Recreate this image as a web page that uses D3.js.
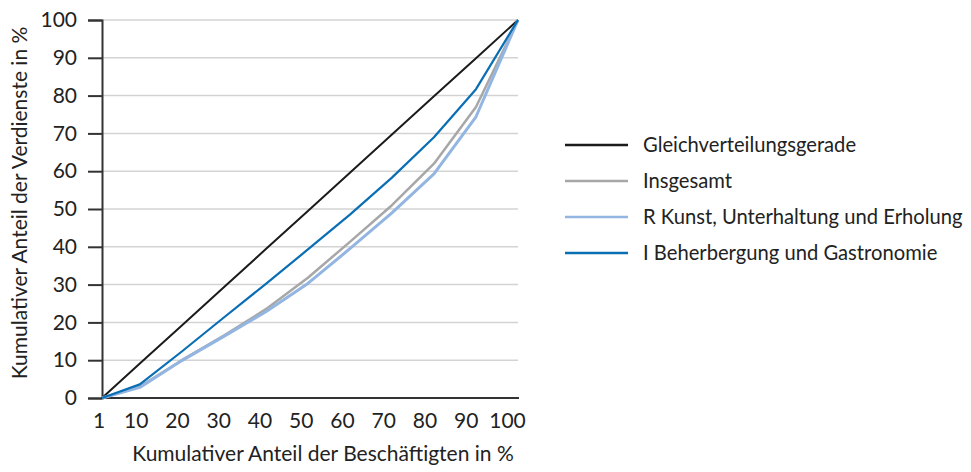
<!DOCTYPE html>
<html>
<head>
<meta charset="utf-8">
<script src="https://cdn.jsdelivr.net/npm/d3@7"></script>
<style>
  body { margin: 0; background: #fff; }
  text { font-family: Lato, "Open Sans", sans-serif; fill: #222; }
</style>
</head>
<body>
<script>
// chart data
var categories = [1, 10, 20, 30, 40, 50, 60, 70, 80, 90, 100];
var gleich = [0, 9.1, 19.2, 29.3, 39.4, 49.5, 59.6, 69.7, 79.8, 89.9, 100];
var insgesamt = [0, 3, 10, 16.5, 23.5, 31.8, 41.3, 51, 62, 77, 100];
var kunst = [0, 2.8, 9.9, 16.3, 22.8, 30.3, 39.5, 49, 59.3, 74.4, 100];
var gastro = [0, 3.6, 12.3, 21.3, 30.2, 39.3, 48.5, 58.3, 69, 81.7, 100];
var yTicks = [0, 10, 20, 30, 40, 50, 60, 70, 80, 90, 100];
var seriesNames = ["Gleichverteilungsgerade", "Insgesamt", "R Kunst, Unterhaltung und Erholung", "I Beherbergung und Gastronomie"];

var width = 971;
var height = 472;

var series = [
    {name: seriesNames[0], values: gleich, color: "#1b1b1b", w: 2},
    {name: seriesNames[1], values: insgesamt, color: "#a7a7a7", w: 2.5},
    {name: seriesNames[2], values: kunst, color: "#93b5e1", w: 3},
    {name: seriesNames[3], values: gastro, color: "#0a6eb4", w: 2.2}
];

var svg = d3.select("body")
    .append("svg")
    .attr("width", width)
    .attr("height", height);

// scales
var x = d3.scaleLinear().domain([1, 100]).range([102, 518]);
var xLabel = d3.scaleLinear().domain([1, 100]).range([98.5, 507]);
var y = d3.scaleLinear().domain([0, 100]).range([398, 20]);

// grid lines
svg.append("g")
    .selectAll("line")
    .data(yTicks.slice(1))
    .enter()
    .append("line")
    .attr("x1", x(1))
    .attr("x2", x(100))
    .attr("y1", d => y(d))
    .attr("y2", d => y(d))
    .style("stroke", "#d3d3d3")
    .style("stroke-width", 1.5);

// y axis
var yAxis = svg.append("g")
    .attr("transform", "translate(" + x(1) + ",0)")
    .call(d3.axisLeft(y).tickValues(yTicks).tickSize(14).tickPadding(11));
yAxis.select(".domain").style("stroke", "#333").style("stroke-width", 2);
yAxis.selectAll(".tick line").style("stroke", "#333").style("stroke-width", 2);
yAxis.selectAll("text").style("font-size", "21px").style("fill", "#222");

// x axis (labels only)
var xAxis = svg.append("g")
    .attr("transform", "translate(0," + y(0) + ")")
    .call(d3.axisBottom(xLabel).tickValues(categories).tickSize(0).tickPadding(15).tickFormat(d3.format("d")));
xAxis.select(".domain").remove();
xAxis.selectAll("text").style("font-size", "21px").style("fill", "#222");

svg.append("line")
    .attr("x1", x(1) - 1)
    .attr("x2", x(100) + 1)
    .attr("y1", y(0))
    .attr("y2", y(0))
    .style("stroke", "#333")
    .style("stroke-width", 2);

// lines
var line = d3.line()
    .x((d, i) => x(categories[i]))
    .y(d => y(d));

svg.append("g")
    .selectAll("path")
    .data(series)
    .enter()
    .append("path")
    .attr("d", d => line(d.values))
    .style("fill", "none")
    .style("stroke", d => d.color)
    .style("stroke-width", d => d.w)
    .style("stroke-linejoin", "round");

// axis titles
svg.append("text")
    .attr("x", 323)
    .attr("y", 461)
    .attr("text-anchor", "middle")
    .style("font-size", "21px")
    .text("Kumulativer Anteil der Beschäftigten in %");

svg.append("text")
    .attr("transform", "translate(27,203) rotate(-90)")
    .attr("text-anchor", "middle")
    .style("font-size", "21px")
    .text("Kumulativer Anteil der Verdienste in %");

// legend
var legend = svg.append("g")
    .selectAll("g")
    .data(series)
    .enter()
    .append("g")
    .attr("transform", (d, i) => "translate(565," + (145 + i * 36) + ")");

legend.append("line")
    .attr("x1", 0)
    .attr("x2", 63)
    .style("stroke", d => d.color)
    .style("stroke-width", 2.5);

legend.append("text")
    .attr("x", 78)
    .attr("dy", "0.35em")
    .style("font-size", "20.2px")
    .text(d => d.name);
</script>
</body>
</html>
